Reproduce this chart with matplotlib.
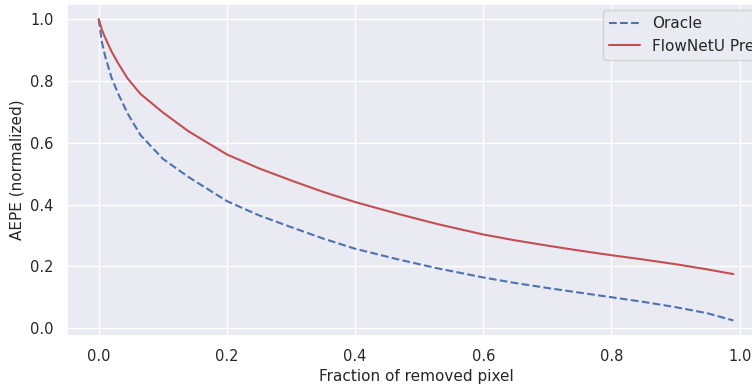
import matplotlib
matplotlib.use('Agg')
import matplotlib.pyplot as plt
import seaborn as sns

sns.set_theme(style='darkgrid', color_codes=True)
plt.rcParams['font.family'] = ['DejaVu Sans']

# fraction of removed pixels
frac = [0, 0.005, 0.01, 0.02, 0.03, 0.045, 0.065, 0.1, 0.14, 0.2, 0.25, 0.3, 0.35,
        0.4, 0.47, 0.53, 0.6, 0.65, 0.7, 0.75, 0.8, 0.85, 0.9, 0.95, 0.99]
# normalized AEPE
oracle = [1.0, 0.925, 0.88, 0.81, 0.76, 0.695, 0.625, 0.548, 0.489, 0.411, 0.365,
          0.327, 0.29, 0.257, 0.221, 0.193, 0.164, 0.146, 0.13, 0.115, 0.1, 0.085,
          0.068, 0.048, 0.025]
pred = [1.0, 0.965, 0.94, 0.895, 0.858, 0.808, 0.758, 0.698, 0.637, 0.562, 0.517,
        0.478, 0.441, 0.408, 0.368, 0.336, 0.303, 0.284, 0.267, 0.251, 0.236, 0.222,
        0.207, 0.19, 0.175]

fig = plt.figure(figsize=(7.52, 3.85), dpi=100)
ax = fig.add_axes([67 / 752, 49.5 / 385, 698 / 752, 331.5 / 385])
ax.plot(frac, oracle, 'b--', label='Oracle')
ax.plot(frac, pred, 'r-', label='FlowNetU Prediction')
ax.set_xlabel('Fraction of removed pixel', fontsize=11)
ax.set_ylabel('AEPE (normalized)', fontsize=11)
ax.tick_params(labelsize=10.5)
ax.legend(loc='upper left', bbox_to_anchor=(0.768, 0.982), borderaxespad=0,
          fontsize=11)

fig.savefig('out.png', dpi=100)
